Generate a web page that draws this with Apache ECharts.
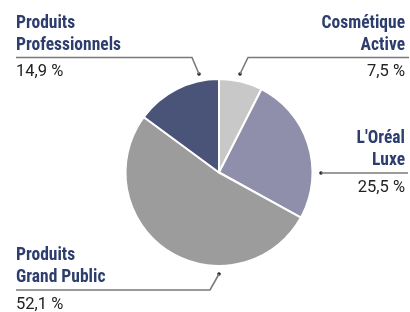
<!DOCTYPE html>
<html>
<head>
<meta charset="utf-8">
<script src="https://cdn.jsdelivr.net/npm/echarts@6/dist/echarts.min.js"></script>
<style>
  html, body { margin: 0; padding: 0; background: #fff; }
  #chart { width: 410px; height: 312px; }
</style>
</head>
<body>
<div id="chart"></div>
<script>
// données
var names = ['Cosmétique\nActive', "L'Oréal\nLuxe", 'Produits\nGrand Public', 'Produits\nProfessionnels'];
var values = [7.5, 25.5, 52.1, 14.9];
var valueLabels = ['7,5 %', '25,5 %', '52,1 %', '14,9 %'];

var colors = ['#c8c8c8', '#8f8fab', '#9c9c9c', '#4a5378'];

// position des étiquettes : x du texte, y du trait, alignement, tracé du trait
var spots = [
  { x: 405, rule: 57.5, align: 'right', line: [[240, 74], [248, 57.5], [409, 57.5]] },
  { x: 405, rule: 173, align: 'right', line: [[321, 173], [322, 173], [408, 173]] },
  { x: 16, rule: 290, align: 'left', line: [[219, 274], [210, 290], [16, 290]] },
  { x: 16, rule: 57.5, align: 'left', line: [[199, 74], [192, 57.5], [16, 57.5]] }
];

var nameFont = "'Liberation Sans Narrow', 'Roboto Condensed', Roboto, sans-serif";
var valueFont = "Roboto, 'Liberation Sans', sans-serif";

var chart = echarts.init(document.getElementById('chart'));

var option = {
  animation: false,
  series: [{
    type: 'pie',
    center: [219, 172.5],
    radius: 93.5,
    startAngle: 90,
    clockwise: true,
    silent: true,
    itemStyle: { borderColor: '#fff', borderWidth: 2 },
    label: {
      show: true,
      overflow: 'none',
      formatter: function (p) {
        var lines = names[p.dataIndex].split('\n').map(function (s) { return '{n|' + s + '}'; });
        return lines.join('\n') + '\n{v|' + valueLabels[p.dataIndex] + '}';
      },
      rich: {
        n: { fontFamily: nameFont, fontWeight: 'bold', fontSize: 17.5, color: '#2d3e6e', lineHeight: 22 },
        v: { fontFamily: valueFont, fontSize: 16.5, color: '#222', lineHeight: 31 }
      }
    },
    labelLine: { show: true, lineStyle: { color: '#7a7a7a', width: 1.6 } },
    labelLayout: function (params) {
      var s = spots[params.dataIndex];
      return {
        x: s.x,
        y: s.rule - 45,
        align: s.align,
        verticalAlign: 'top',
        labelLinePoints: s.line
      };
    },
    data: values.map(function (v, i) {
      return {
        value: v,
        name: names[i],
        itemStyle: { color: colors[i] },
        label: { align: spots[i].align }
      };
    })
  }],
  graphic: spots.map(function (s) {
    return {
      type: 'circle',
      shape: { cx: s.line[0][0], cy: s.line[0][1], r: 1.8 },
      style: { fill: '#222' },
      silent: true
    };
  })
};

chart.setOption(option);
</script>
</body>
</html>
